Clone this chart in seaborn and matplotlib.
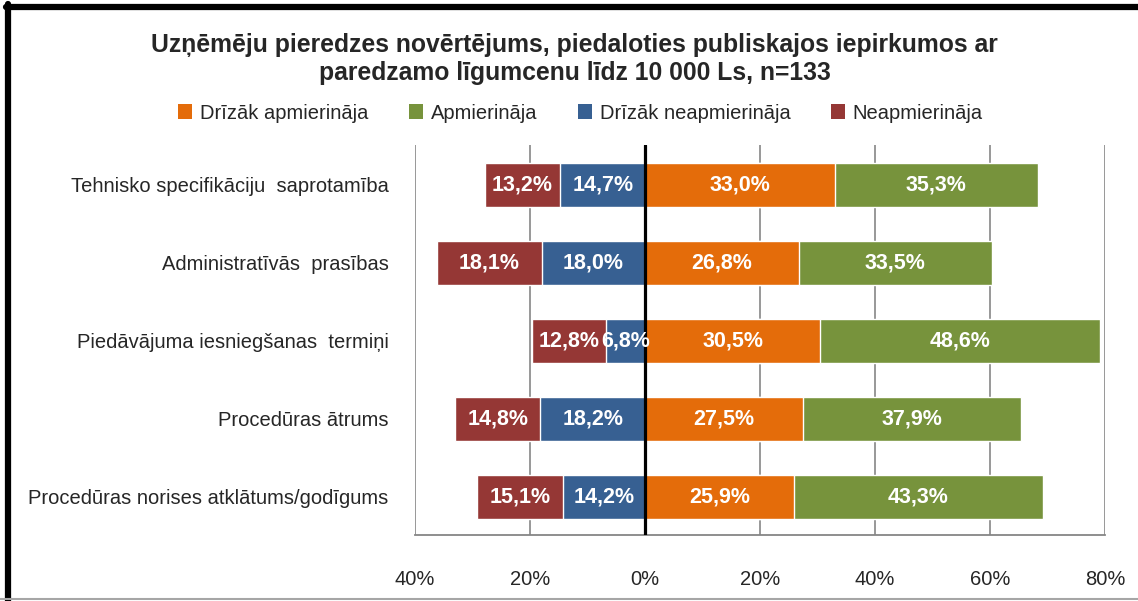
import matplotlib
matplotlib.use('Agg')
import matplotlib.pyplot as plt
import seaborn as sns
import pandas as pd
from matplotlib.lines import Line2D
from matplotlib.patches import Patch

# Data
categories = ['Tehnisko specifikāciju  saprotamība',
              'Administratīvās  prasības',
              'Piedāvājuma iesniegšanas  termiņi',
              'Procedūras ātrums',
              'Procedūras norises atklātums/godīgums']
neapm = [13.2, 18.1, 12.8, 14.8, 15.1]          # Neapmierināja
drizak_neapm = [14.7, 18.0, 6.8, 18.2, 14.2]    # Drīzāk neapmierināja
drizak_apm = [33.0, 26.8, 30.5, 27.5, 25.9]     # Drīzāk apmierināja
apm = [35.3, 33.5, 48.6, 37.9, 43.3]            # Apmierināja

series_names = ['Drīzāk apmierināja', 'Apmierināja', 'Drīzāk neapmierināja', 'Neapmierināja']
colors = ['#E46C0A', '#77933C', '#376092', '#953735']
tick_vals = [-40, -20, 0, 20, 40, 60, 80]
tick_labels = ['40%', '20%', '0%', '20%', '40%', '60%', '80%']

df = pd.DataFrame({'cat': categories, 'neapm': neapm, 'dneapm': drizak_neapm,
                   'dapm': drizak_apm, 'apm': apm})
df['right_total'] = df['dapm'] + df['apm']
df['left_total'] = -(df['neapm'] + df['dneapm'])
df['left_inner'] = -df['dneapm']

sns.set_style('white')
plt.rcParams['font.family'] = ['Liberation Sans', 'DejaVu Sans']

fig = plt.figure(figsize=(11.38, 6.01), dpi=100)
ax = fig.add_axes([415 / 1138, 1 - 535 / 601, 690 / 1138, 390 / 601])

bw = 0.56
# stacked by overlaying cumulative totals
sns.barplot(data=df, y='cat', x='right_total', color=colors[1], width=bw, ax=ax, saturation=1, orient='h')
sns.barplot(data=df, y='cat', x='dapm', color=colors[0], width=bw, ax=ax, saturation=1, orient='h')
sns.barplot(data=df, y='cat', x='left_total', color=colors[3], width=bw, ax=ax, saturation=1, orient='h')
sns.barplot(data=df, y='cat', x='left_inner', color=colors[2], width=bw, ax=ax, saturation=1, orient='h')

# value labels in the middle of each segment
for i, row in df.iterrows():
    segs = [(-row['dneapm'] - row['neapm'] / 2, row['neapm']),
            (-row['dneapm'] / 2, row['dneapm']),
            (row['dapm'] / 2, row['dapm']),
            (row['dapm'] + row['apm'] / 2, row['apm'])]
    for xc, v in segs:
        ax.text(xc, i, f'{v:.1f}%'.replace('.', ','), ha='center', va='center',
                color='white', fontsize=15.5, fontweight='bold', zorder=6)

ax.set_xlim(-40, 80)
ax.set_ylim(4.49, -0.51)
ax.set_xticks(tick_vals)
ax.set_xticklabels(tick_labels, fontsize=14.5)
ax.set_xlabel('')
ax.set_ylabel('')
ax.tick_params(axis='y', length=0, labelsize=14.5, pad=19)
ax.tick_params(axis='x', direction='out', length=7, width=1.2, color='#868686', pad=18)
for lab in ax.get_yticklabels():
    lab.set_horizontalalignment('right')

ax.grid(axis='x', color='#868686', linewidth=1.2)
ax.set_axisbelow(True)
for s in ['top', 'right', 'left']:
    ax.spines[s].set_visible(False)
ax.spines['bottom'].set_color('#868686')
ax.spines['bottom'].set_linewidth(1.3)
ax.axvline(0, color='black', linewidth=2.3, zorder=5)

# title and legend
fig.text(0.505, 1 - 45 / 601, 'Uzņēmēju pieredzes novērtējums, piedaloties publiskajos iepirkumos ar',
         ha='center', va='center', fontsize=17.8, fontweight='bold')
fig.text(0.505, 1 - 73 / 601, 'paredzamo līgumcenu līdz 10 000 Ls, n=133',
         ha='center', va='center', fontsize=17.8, fontweight='bold')
handles = [Patch(facecolor=c, edgecolor='none') for c in colors]
fig.legend(handles, series_names, loc='center', bbox_to_anchor=(0.51, 1 - 113 / 601), ncol=4,
           frameon=False, fontsize=14.5, handlelength=0.7, handleheight=0.7,
           handletextpad=0.4, columnspacing=2.0)

# frame of the original chart image
fig.add_artist(Line2D([8 / 1138, 8 / 1138], [0, 1 - 4 / 601], color='black', linewidth=4.5))
fig.add_artist(Line2D([6 / 1138, 1], [1 - 7 / 601, 1 - 7 / 601], color='black', linewidth=4.5))
fig.add_artist(Line2D([0, 1], [1 - 599 / 601, 1 - 599 / 601], color='#A6A6A6', linewidth=1.5))

fig.savefig('out.png', dpi=100)
